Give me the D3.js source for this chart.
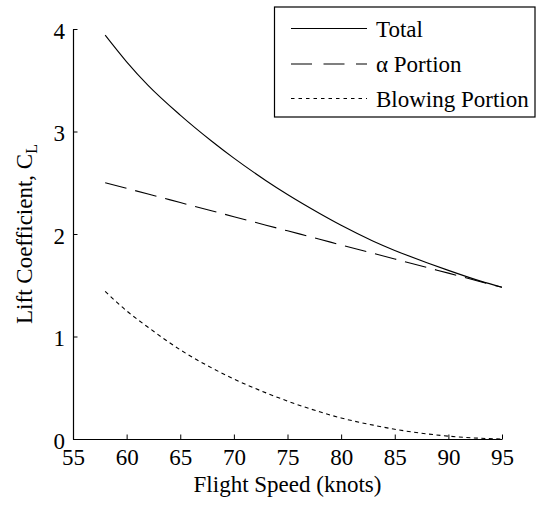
<!DOCTYPE html>
<html><head><meta charset="utf-8">
<script src="https://cdn.jsdelivr.net/npm/d3@7"></script>
<style>html,body{margin:0;padding:0;background:#fff;}</style></head>
<body>
<svg id="chart" width="537" height="505"></svg>
<script>
const speeds = [58,60,62,65,68,70,73,75,78,80,83,85,88,90,93,95];
const totalCL = [3.94,3.68,3.45,3.16,2.90,2.74,2.52,2.385,2.20,2.085,1.93,1.84,1.72,1.645,1.54,1.48];
const alphaCL = [2.50,2.445,2.39,2.307,2.224,2.169,2.086,2.031,1.949,1.893,1.811,1.756,1.673,1.618,1.535,1.48];
const blowingCL = [1.44,1.25,1.09,0.87,0.69,0.585,0.45,0.37,0.265,0.205,0.135,0.095,0.05,0.028,0.007,0.0];
const xTicks = [55,60,65,70,75,80,85,90,95];
const yTicks = [0,1,2,3,4];
const seriesNames = ["Total","α Portion","Blowing Portion"];

const svg = d3.select("#chart");
const x = d3.scaleLinear().domain([55,95]).range([73,502]);
const y = d3.scaleLinear().domain([0,4]).range([439,29]);
const fs = 23;
function serif(sel){ return sel.style("font-family",'"Nimbus Roman"').attr("font-size",fs).attr("fill","#000"); }

const xAxis = d3.axisBottom(x).tickValues(xTicks).tickFormat(d3.format("d")).tickSizeInner(-4.5).tickSizeOuter(0).tickPadding(10);
const yAxis = d3.axisLeft(y).tickValues(yTicks).tickFormat(d3.format("d")).tickSizeInner(-4.5).tickSizeOuter(0).tickPadding(8);
const gx = svg.append("g").attr("transform","translate(0,439)").call(xAxis);
const gy = svg.append("g").attr("transform","translate(73,0)").call(yAxis);
[gx,gy].forEach(g=>{
  g.attr("font-family",null).attr("font-size",null);
  g.selectAll("path.domain").attr("stroke","#000").attr("stroke-width",1.2);
  g.selectAll(".tick line").attr("stroke","#000").attr("stroke-width",1);
  serif(g.selectAll("text"));
});
gx.selectAll("text").attr("dy","0.71em");
gy.selectAll("text").attr("dy","0.40em");

const series = [
  {vals: totalCL, dash: null},
  {vals: alphaCL, dash: "22,9"},
  {vals: blowingCL, dash: "4,3.5"}
];
const line = d3.line().x(d=>x(d[0])).y(d=>y(d[1])).curve(d3.curveMonotoneX);
series.forEach(s=>{
  svg.append("path")
    .datum(speeds.map((v,i)=>[v,s.vals[i]]))
    .attr("d",line).attr("fill","none").attr("stroke","#000").attr("stroke-width",1.1)
    .attr("stroke-dasharray",s.dash);
});

serif(svg.append("text")).attr("x",287.5).attr("y",492).attr("text-anchor","middle").text("Flight Speed (knots)");
const yl = serif(svg.append("text")).attr("transform","translate(32,234) rotate(-90)").attr("text-anchor","middle");
yl.append("tspan").text("Lift Coefficient, C");
yl.append("tspan").attr("font-size",16).attr("dy",5).text("L");

svg.append("rect").attr("x",274.5).attr("y",7).attr("width",260.5).attr("height",110)
  .attr("fill","#fff").attr("stroke","#000").attr("stroke-width",1.2);
const legDash = [null,"21,11.5","3.5,4"];
const rowsY = [28.5,64,98.5];
seriesNames.forEach((n,i)=>{
  svg.append("line").attr("x1",291).attr("x2",367).attr("y1",rowsY[i]).attr("y2",rowsY[i])
    .attr("stroke","#000").attr("stroke-width",1.1).attr("stroke-dasharray",legDash[i]);
  serif(svg.append("text")).attr("x",376).attr("y",rowsY[i]+8).text(n);
});
</script>
</body></html>
